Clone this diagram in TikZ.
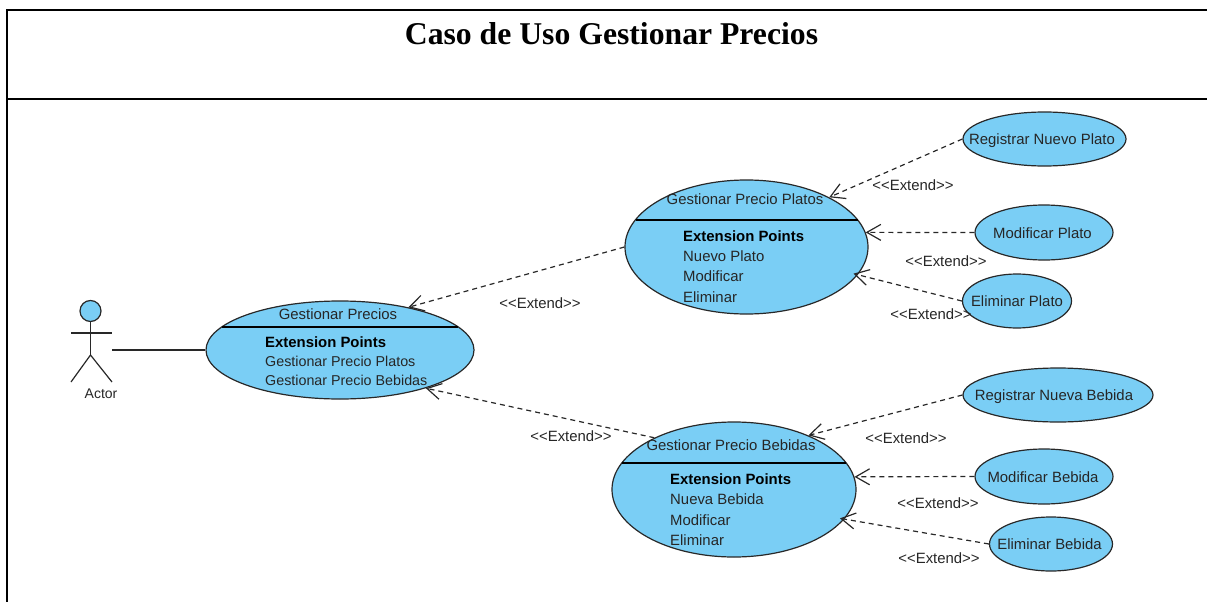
\documentclass[tikz,border=0pt]{standalone}
\usepackage{fontspec}
\setmainfont{Liberation Sans}
\newfontfamily\titlefont{Liberation Serif}
\usetikzlibrary{arrows.meta,shapes.geometric}
\definecolor{ucfill}{RGB}{122,206,245}
\definecolor{ucline}{RGB}{40,40,40}
\tikzset{
  frameline/.style={line width=2pt,black},
  usecase/.style={ellipse,draw=ucline,fill=ucfill,line width=1.2pt,inner sep=0pt},
  txt/.style={font=\fontsize{14.9}{17}\selectfont,text=black!85,inner sep=0pt,text height=11pt,text depth=0pt},
  hdr/.style={txt},
  pts/.style={txt,anchor=west},
  ptn/.style={pts,font=\fontsize{14.3}{17}\selectfont},
  ptb/.style={pts,font=\fontsize{14.9}{17}\selectfont\bfseries,text=black},
  ext/.style={txt},
  divider/.style={line width=1.1pt,black},
  extendarrow/.style={draw=ucline,line width=1.2pt,dash pattern=on 5pt off 4pt,-{Straight Barb[length=14pt,width=16pt,line width=1.2pt]}},
  stick/.style={line width=1.2pt,ucline}
}
\begin{document}
\begin{tikzpicture}[x=1pt,y=-1pt]
\useasboundingbox (0,0) rectangle (1207,602);
% frame
\coordinate (fa) at (7,10); \coordinate (fb) at (1207,10); \coordinate (fc) at (7,602);
\coordinate (fd) at (7,99); \coordinate (fe) at (1207,99);
\draw[frameline] (fc) -- (fa) -- (fb);
\draw[frameline] (fd) -- (fe);
\node[font=\titlefont\fontsize{31.7}{36}\selectfont\bfseries,inner sep=0pt] (title) at (611.5,34) {Caso de Uso Gestionar Precios};
% big use cases
\node[usecase,minimum width=268pt,minimum height=98pt] (precios) at (340,350) {};
\node[usecase,minimum width=243pt,minimum height=134pt] (platos) at (746.5,247) {};
\node[usecase,minimum width=244pt,minimum height=135pt] (bebidas) at (734,489.5) {};
\coordinate (d1a) at (222,327); \coordinate (d1b) at (458,327);
\coordinate (d2a) at (635.5,220); \coordinate (d2b) at (857.5,220);
\coordinate (d3a) at (622,463); \coordinate (d3b) at (846,463);
\draw[divider] (d1a) -- (d1b);
\draw[divider] (d2a) -- (d2b);
\draw[divider] (d3a) -- (d3b);
\node[hdr] (t1) at (338,314) {Gestionar Precios};
\node[ptb] (t1a) at (265,342) {Extension Points};
\node[ptn] (t1b) at (265,361) {Gestionar Precio Platos};
\node[ptn] (t1c) at (265,380) {Gestionar Precio Bebidas};
\node[hdr] (t2) at (745,199) {Gestionar Precio Platos};
\node[ptb] (t2a) at (683,236) {Extension Points};
\node[pts] (t2b) at (683,256) {Nuevo Plato};
\node[pts] (t2c) at (683,276) {Modificar};
\node[pts] (t2d) at (683,297) {Eliminar};
\node[hdr] (t3) at (731,445) {Gestionar Precio Bebidas};
\node[ptb] (t3a) at (670,479) {Extension Points};
\node[pts] (t3b) at (670,499) {Nueva Bebida};
\node[pts] (t3c) at (670,520) {Modificar};
\node[pts] (t3d) at (670,540) {Eliminar};
% small use cases
\node[usecase,minimum width=163pt,minimum height=54pt] (u1) at (1044.5,139) {};
\node[usecase,minimum width=138pt,minimum height=55pt] (u2) at (1044,232.5) {};
\node[usecase,minimum width=109pt,minimum height=54pt] (u3) at (1017,301) {};
\node[usecase,minimum width=190pt,minimum height=54pt] (u4) at (1058,395) {};
\node[usecase,minimum width=138pt,minimum height=55pt] (u5) at (1044,476.5) {};
\node[usecase,minimum width=123pt,minimum height=54pt] (u6) at (1051,544) {};
\node[txt] (u1t) at (1042,139) {Registrar Nuevo Plato};
\node[txt] (u2t) at (1042.5,233) {Modificar Plato};
\node[txt] (u3t) at (1017,301) {Eliminar Plato};
\node[txt] (u4t) at (1054,395) {Registrar Nueva Bebida};
\node[txt] (u5t) at (1043,476.5) {Modificar Bebida};
\node[txt] (u6t) at (1049.5,544) {Eliminar Bebida};
% actor
\node[circle,draw=ucline,fill=ucfill,line width=1.2pt,minimum size=21pt,inner sep=0pt] (head) at (90.5,311) {};
\coordinate (hip) at (90.5,355);
\coordinate (arml) at (71,333); \coordinate (armr) at (112,333);
\coordinate (legl) at (71,382); \coordinate (legr) at (112,382);
\coordinate (actorhand) at (112,350);
\draw[stick] (head.south) -- (hip);
\draw[stick] (arml) -- (armr);
\draw[stick] (legl) -- (hip) -- (legr);
\node[txt,font=\fontsize{14}{16}\selectfont] (actor) at (101,392.5) {Actor};
\draw[stick] (actorhand) -- (precios.west);
% extend connectors
\draw[extendarrow] (platos.west) -- (precios.32);
\draw[extendarrow] (bebidas.147.4) -- (precios.-24.7);
\draw[extendarrow] (u1.west) -- (platos.31);
\draw[extendarrow] (u2.west) -- (platos.7.7);
\draw[extendarrow,shorten >=-4.5pt] (u3.west) -- (platos.-14.6);
\draw[extendarrow] (u4.west) -- (bebidas.36.2);
\draw[extendarrow] (u5.west) -- (bebidas.6.4);
\draw[extendarrow,shorten >=-4.5pt] (u6.west) -- (bebidas.-15);
% labels
\node[ext] (e1) at (540,303) {<{}<Extend>{}>};
\node[ext] (e2) at (571,436) {<{}<Extend>{}>};
\node[ext] (e3) at (913,185) {<{}<Extend>{}>};
\node[ext] (e4) at (946,261) {<{}<Extend>{}>};
\node[ext] (e5) at (931,314) {<{}<Extend>{}>};
\node[ext] (e6) at (906,438) {<{}<Extend>{}>};
\node[ext] (e7) at (938,503) {<{}<Extend>{}>};
\node[ext] (e8) at (939,558) {<{}<Extend>{}>};
\end{tikzpicture}
\end{document}
